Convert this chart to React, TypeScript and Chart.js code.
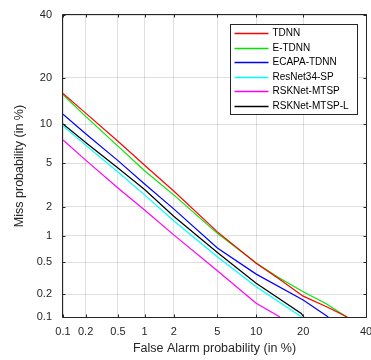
import React, { useEffect, useRef } from 'react';
import { Chart, registerables } from 'chart.js';

Chart.register(...registerables);

const seriesNames = ['TDNN', 'E-TDNN', 'ECAPA-TDNN', 'ResNet34-SP', 'RSKNet-MTSP', 'RSKNet-MTSP-L'];
const seriesColors = ['#ff0000', '#00e600', '#0000ff', '#00ffff', '#ff00ff', '#000000'];

// False alarm (%) / miss (%) pairs
const tdnnFA = [0.1, 0.2, 0.5, 1, 2, 5, 10, 14.1, 20, 26.7, 33.4];
const tdnnMiss = [16.1, 12.0, 7.5, 4.8, 2.83, 1.1, 0.486, 0.32, 0.19, 0.138, 0.1];
const etdnnFA = [0.1, 0.2, 0.5, 1, 2, 5, 10, 14.1, 20, 26.7, 33.2];
const etdnnMiss = [15.8, 11.4, 6.88, 4.3, 2.6, 1.06, 0.49, 0.33, 0.217, 0.15, 0.1];
const ecapaFA = [0.1, 0.2, 0.5, 1, 2, 5, 10, 20, 27.2];
const ecapaMiss = [11.8, 8.55, 5.25, 3.28, 1.9, 0.73, 0.36, 0.169, 0.1];
const resnetFA = [0.1, 0.2, 0.5, 1, 2, 5, 10, 19.6];
const resnetMiss = [9.75, 7.0, 4.2, 2.6, 1.44, 0.58, 0.251, 0.1];
const rsknetFA = [0.1, 0.2, 0.5, 1, 2, 5, 10, 14.5];
const rsknetMiss = [7.67, 5.3, 3.02, 1.85, 1.02, 0.396, 0.153, 0.1];
const rsknetLFA = [0.1, 0.2, 0.5, 1, 2, 5, 10, 19.5, 20.2];
const rsknetLMiss = [10.1, 7.35, 4.55, 2.92, 1.6, 0.65, 0.277, 0.112, 0.1];

const xTickValues = [0.1, 0.2, 0.5, 1, 2, 5, 10, 20, 40];
const xTickLabels = ['0.1', '0.2', '0.5', '1', '2', '5', '10', '20', '40'];
const yTickValues = [0.1, 0.2, 0.5, 1, 2, 5, 10, 20, 40];
const yTickLabels = ['0.1', '0.2', '0.5', '1', '2', '5', '10', '20', '40'];

const xTitle = 'False Alarm probability (in %)';
const yTitle = 'Miss probability (in %)';

// inverse standard normal CDF (Acklam)
function probit(p: number): number {
  const a = [-3.969683028665376e1, 2.209460984245205e2, -2.759285104469687e2, 1.38357751867269e2, -3.066479806614716e1, 2.506628277459239];
  const b = [-5.447609879822406e1, 1.615858368580409e2, -1.556989798598866e2, 6.680131188771972e1, -1.328068155288572e1];
  const c = [-7.784894002430293e-3, -3.223964580411365e-1, -2.400758277161838, -2.549671348838453, 4.374664141464968, 2.938163982698783];
  const d = [7.784695709041462e-3, 3.224671290700398e-1, 2.445134137142996, 3.754408661907416];
  const pl = 0.02425;
  const ph = 1 - pl;
  let q: number, r: number;
  if (p < pl) {
    q = Math.sqrt(-2 * Math.log(p));
    return (((((c[0] * q + c[1]) * q + c[2]) * q + c[3]) * q + c[4]) * q + c[5]) / ((((d[0] * q + d[1]) * q + d[2]) * q + d[3]) * q + 1);
  }
  if (p <= ph) {
    q = p - 0.5;
    r = q * q;
    return ((((((a[0] * r + a[1]) * r + a[2]) * r + a[3]) * r + a[4]) * r + a[5]) * q) / (((((b[0] * r + b[1]) * r + b[2]) * r + b[3]) * r + b[4]) * r + 1);
  }
  q = Math.sqrt(-2 * Math.log(1 - p));
  return -(((((c[0] * q + c[1]) * q + c[2]) * q + c[3]) * q + c[4]) * q + c[5]) / ((((d[0] * q + d[1]) * q + d[2]) * q + d[3]) * q + 1);
}

const toPts = (fa: number[], miss: number[]) => fa.map((f, i) => ({ x: probit(f / 100), y: probit(miss[i] / 100) }));

const FONT = "'Liberation Sans', Arial, sans-serif";
const AXIS_COLOR = '#262626';

const framePlugin = {
  id: 'detFrame',
  afterDatasetsDraw(chart: any) {
    const { ctx, chartArea } = chart;
    const { left, right, top, bottom } = chartArea;
    const xs = chart.scales.x;
    const ys = chart.scales.y;
    ctx.save();
    ctx.strokeStyle = AXIS_COLOR;
    ctx.lineWidth = 1;
    const L = Math.round(left) - 0.5;
    const R = Math.round(right) + 0.5;
    const T = Math.round(top) - 0.5;
    const B = Math.round(bottom) + 0.5;
    ctx.beginPath();
    ctx.rect(L, T, R - L, B - T);
    ctx.stroke();
    // inward ticks
    const tl = 3;
    ctx.beginPath();
    xTickValues.forEach((v) => {
      const px = Math.round(xs.getPixelForValue(probit(v / 100))) + 0.5;
      ctx.moveTo(px, B);
      ctx.lineTo(px, B - tl);
      ctx.moveTo(px, T);
      ctx.lineTo(px, T + tl);
    });
    yTickValues.forEach((v) => {
      const py = Math.round(ys.getPixelForValue(probit(v / 100))) + 0.5;
      ctx.moveTo(L, py);
      ctx.lineTo(L + tl, py);
      ctx.moveTo(R, py);
      ctx.lineTo(R - tl, py);
    });
    ctx.stroke();

    // legend box
    const boxW = 127;
    const boxH = 90;
    const bx = Math.round(right - 9 - boxW) + 0.5;
    const by = Math.round(top + 9) + 0.5;
    ctx.fillStyle = '#ffffff';
    ctx.fillRect(bx, by, boxW, boxH);
    ctx.strokeStyle = AXIS_COLOR;
    ctx.strokeRect(bx, by, boxW, boxH);
    ctx.font = `10px ${FONT}`;
    ctx.textBaseline = 'middle';
    ctx.textAlign = 'left';
    chart.data.datasets.forEach((ds: any, i: number) => {
      const ry = Math.round(by + 8.5 + i * 14.6) + 0.5;
      ctx.strokeStyle = ds.borderColor;
      ctx.lineWidth = 1.4;
      ctx.beginPath();
      ctx.moveTo(bx + 4, ry);
      ctx.lineTo(bx + 38, ry);
      ctx.stroke();
      ctx.fillStyle = '#000000';
      ctx.fillText(ds.label, bx + 42, ry);
    });
    ctx.restore();
  },
};

export default function App() {
  const canvasRef = useRef<HTMLCanvasElement | null>(null);

  useEffect(() => {
    if (!canvasRef.current) return;
    const series = [
      toPts(tdnnFA, tdnnMiss),
      toPts(etdnnFA, etdnnMiss),
      toPts(ecapaFA, ecapaMiss),
      toPts(resnetFA, resnetMiss),
      toPts(rsknetFA, rsknetMiss),
      toPts(rsknetLFA, rsknetLMiss),
    ];
    const chart = new Chart(canvasRef.current, {
      type: 'scatter',
      data: {
        datasets: series.map((pts, i) => ({
          label: seriesNames[i],
          data: pts,
          showLine: true,
          borderColor: seriesColors[i],
          backgroundColor: seriesColors[i],
          borderWidth: 1.2,
          pointRadius: 0,
          tension: 0,
        })),
      },
      options: {
        responsive: false,
        animation: false,
        devicePixelRatio: 1,
        layout: { padding: { left: 0, right: 5, top: 15, bottom: 0 } },
        plugins: {
          legend: { display: false },
          tooltip: { enabled: false },
        },
        scales: {
          x: {
            type: 'linear',
            min: probit(xTickValues[0] / 100),
            max: probit(xTickValues[xTickValues.length - 1] / 100),
            afterBuildTicks: (scale: any) => {
              scale.ticks = xTickValues.map((v) => ({ value: probit(v / 100) }));
            },
            afterFit: (scale: any) => {
              scale.height = 43;
              scale.paddingLeft = 0;
              scale.paddingRight = 0;
            },
            border: { display: false },
            grid: { color: 'rgba(38,38,38,0.15)', drawTicks: false, lineWidth: 1 },
            ticks: {
              autoSkip: false,
              maxRotation: 0,
              padding: 8,
              color: AXIS_COLOR,
              font: { family: FONT, size: 11 },
              callback: (_v: any, idx: number) => xTickLabels[idx],
            },
            title: {
              display: true,
              text: xTitle,
              color: AXIS_COLOR,
              font: { family: FONT, size: 12.5 },
              padding: { top: 0, bottom: 4 },
            },
          },
          y: {
            type: 'linear',
            min: probit(yTickValues[0] / 100),
            max: probit(yTickValues[yTickValues.length - 1] / 100),
            afterBuildTicks: (scale: any) => {
              scale.ticks = yTickValues.map((v) => ({ value: probit(v / 100) }));
            },
            afterFit: (scale: any) => {
              scale.width = 63;
              scale.paddingTop = 0;
              scale.paddingBottom = 0;
            },
            border: { display: false },
            grid: { color: 'rgba(38,38,38,0.15)', drawTicks: false, lineWidth: 1 },
            ticks: {
              autoSkip: false,
              padding: 11,
              color: AXIS_COLOR,
              font: { family: FONT, size: 11 },
              callback: (_v: any, idx: number) => yTickLabels[idx],
            },
            title: {
              display: true,
              text: yTitle,
              color: AXIS_COLOR,
              font: { family: FONT, size: 12.5 },
              padding: { top: 12, bottom: 0 },
            },
          },
        },
      },
      plugins: [framePlugin],
    } as any);
    return () => chart.destroy();
  }, []);

  return (
    <div style={{ position: 'fixed', left: 0, top: 0, width: 371, height: 360, background: '#fff' }}>
      <canvas ref={canvasRef} width={371} height={360} style={{ width: 371, height: 360, display: 'block' }} />
    </div>
  );
}
